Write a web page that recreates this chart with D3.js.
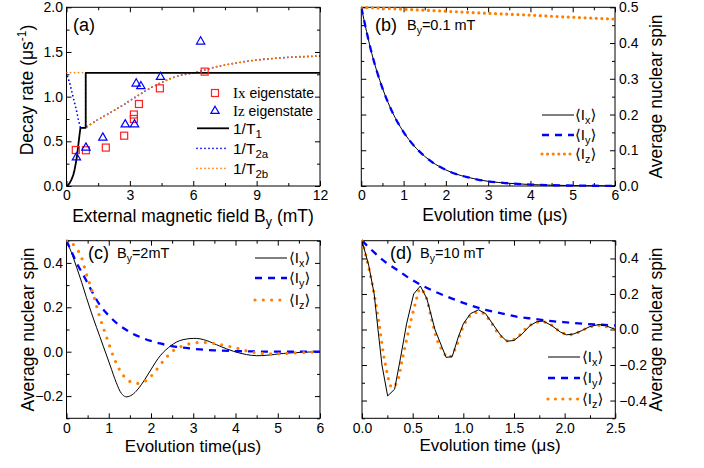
<!DOCTYPE html>
<html><head><meta charset="utf-8">
<script src="https://cdn.jsdelivr.net/npm/d3@7"></script>
<style>
body{margin:0;background:#fff;}
svg{display:block;}
text{font-family:"Liberation Sans",Arial,"DejaVu Sans",sans-serif;fill:#000;}
</style></head>
<body>
<svg id="c" width="704" height="468"></svg>
<script>
// ---------- DATA ----------
// Panel (a)
const aIxB = [0.44, 0.92, 1.86, 2.73, 3.19, 3.19, 3.43, 4.42, 6.54];
const aIxR = [0.403, 0.40, 0.43, 0.563, 0.75, 0.80, 0.918, 1.093, 1.28];
const aIzB = [0.47, 0.92, 1.72, 2.78, 3.22, 3.30, 3.52, 4.45, 6.35];
const aIzR = [0.33, 0.44, 0.552, 0.70, 0.70, 1.157, 1.127, 1.231, 1.627];
const aT1B = [0, 0.08, 0.16, 0.24, 0.32, 0.38, 0.44, 0.5, 0.55, 0.6, 0.66, 0.91, 0.91, 12];
const aT1R = [0, 0.01, 0.037, 0.075, 0.123, 0.18, 0.254, 0.34, 0.44, 0.54, 0.651, 0.651, 1.266, 1.266];
const aRiseB = [0.91, 1.5, 2, 2.5, 3, 3.5, 4, 4.5, 5, 5.5, 6, 6.5, 7, 7.5, 8, 8.5, 9, 9.5, 10, 10.5, 11, 11.5, 12];
const aRiseR = [0.655, 0.745, 0.81, 0.88, 0.955, 1.03, 1.10, 1.16, 1.21, 1.245, 1.265, 1.295, 1.33, 1.355, 1.375, 1.395, 1.41, 1.422, 1.432, 1.44, 1.446, 1.45, 1.455];
const aT2aHeadB = [0, 0.03, 0.16, 0.31, 0.47, 0.55, 0.66];
const aT2aHeadR = [1.27, 1.24, 1.147, 0.998, 0.85, 0.756, 0.651];
const aT2bHeadB = [0, 0.91];
const aT2bHeadR = [1.27, 1.27];
const aXTicks = [0, 3, 6, 9, 12];
const aYTicks = [0.0, 0.5, 1.0, 1.5, 2.0];

// Panel (b)  By = 0.1 mT
const bT  = [0, 0.25, 0.5, 0.75, 1, 1.25, 1.5, 1.75, 2, 2.25, 2.5, 2.75, 3, 3.5, 4, 4.5, 5, 5.5, 6];
const bIx = [0.5, 0.37, 0.274, 0.203, 0.151, 0.112, 0.083, 0.061, 0.045, 0.033, 0.025, 0.018, 0.013, 0.0075, 0.004, 0.0022, 0.0012, 0.0007, 0.0004];
const bIy = [0.5, 0.37, 0.274, 0.203, 0.151, 0.112, 0.083, 0.061, 0.045, 0.033, 0.025, 0.018, 0.013, 0.0075, 0.004, 0.0022, 0.0012, 0.0007, 0.0004];
const bTz = [0, 1, 2, 3, 4, 5, 6];
const bIz = [0.5, 0.4945, 0.489, 0.483, 0.478, 0.472, 0.467];
const bXTicks = [0, 1, 2, 3, 4, 5, 6];
const bYTicks = [0.0, 0.1, 0.2, 0.3, 0.4, 0.5];

// Panel (c)  By = 2 mT
const cTx = [0, 0.12, 0.24, 0.36, 0.47, 0.59, 0.71, 0.87, 1.03, 1.18, 1.3, 1.4, 1.52, 1.65, 1.78, 1.92, 2.05, 2.17, 2.29, 2.41, 2.53, 2.68, 2.84, 3.0, 3.16, 3.32, 3.63, 3.95, 4.26, 4.5, 4.74, 5.13, 5.53, 6];
const cIx = [0.5, 0.445, 0.38, 0.312, 0.245, 0.175, 0.11, 0.025, -0.06, -0.14, -0.188, -0.203, -0.198, -0.178, -0.146, -0.105, -0.065, -0.03, -0.003, 0.018, 0.035, 0.05, 0.057, 0.06, 0.058, 0.05, 0.025, 0.002, -0.013, -0.018, -0.016, -0.008, -0.003, 0];
const cTy = [0, 0.12, 0.24, 0.4, 0.55, 0.79, 1.0, 1.18, 1.4, 1.58, 1.8, 1.97, 2.2, 2.37, 2.6, 2.76, 3.0, 3.16, 3.5, 3.95, 4.5, 5, 5.5, 6];
const cIy = [0.5, 0.45, 0.4, 0.345, 0.29, 0.21, 0.163, 0.13, 0.1, 0.08, 0.062, 0.05, 0.038, 0.03, 0.022, 0.018, 0.013, 0.01, 0.006, 0.003, 0.001, 0, 0, 0];
const cTz = [0, 0.12, 0.32, 0.47, 0.63, 0.79, 0.95, 1.14, 1.3, 1.45, 1.6, 1.74, 1.9, 2.05, 2.29, 2.53, 2.84, 3.16, 3.47, 3.95, 4.42, 4.9, 5.37, 6];
const cIz = [0.5, 0.49, 0.44, 0.35, 0.26, 0.155, 0.065, -0.035, -0.095, -0.128, -0.141, -0.142, -0.128, -0.10, -0.042, 0.005, 0.032, 0.042, 0.038, 0.02, -0.003, -0.01, -0.006, 0];
const cXTicks = [0, 1, 2, 3, 4, 5, 6];
const cYTicks = [-0.2, 0.0, 0.2, 0.4];

// Panel (d)  By = 10 mT
const dTx = [0, 0.066, 0.12, 0.158, 0.197, 0.253, 0.322, 0.38, 0.44, 0.51, 0.576, 0.64, 0.72, 0.79, 0.83, 0.89, 0.95, 1.0, 1.07, 1.15, 1.22, 1.30, 1.37, 1.43, 1.5, 1.58, 1.66, 1.73, 1.79, 1.87, 1.96, 2.02, 2.09, 2.17, 2.25, 2.34, 2.4, 2.5];
const dIx = [0.5, 0.362, 0.2, 0.0, -0.2, -0.374, -0.336, -0.16, 0.032, 0.2, 0.245, 0.174, 0.0, -0.1, -0.157, -0.153, -0.043, 0.032, 0.089, 0.111, 0.089, 0.023, -0.034, -0.066, -0.062, -0.025, 0.023, 0.045, 0.047, 0.023, -0.015, -0.03, -0.025, -0.006, 0.017, 0.028, 0.023, 0.0];
const dTz = [0, 0.033, 0.1, 0.164, 0.23, 0.296, 0.345, 0.395, 0.46, 0.526, 0.576, 0.625, 0.69, 0.757, 0.855, 0.92, 0.99, 1.07, 1.17, 1.25, 1.35, 1.45, 1.55, 1.64, 1.74, 1.84, 1.94, 2.04, 2.14, 2.24, 2.34, 2.43, 2.5];
const dIz = [0.5, 0.428, 0.26, 0.05, -0.194, -0.326, -0.298, -0.175, -0.006, 0.145, 0.23, 0.192, 0.05, -0.08, -0.157, -0.11, 0.004, 0.079, 0.098, 0.06, -0.025, -0.066, -0.034, 0.017, 0.042, 0.036, -0.006, -0.03, -0.015, 0.013, 0.023, 0.013, 0.0];
const dTy = [0, 0.1, 0.23, 0.35, 0.45, 0.56, 0.7, 0.89, 1.05, 1.22, 1.4, 1.55, 1.7, 1.875, 2.05, 2.2, 2.35, 2.5];
const dIy = [0.5, 0.445, 0.38, 0.335, 0.295, 0.258, 0.218, 0.174, 0.14, 0.111, 0.088, 0.07, 0.06, 0.047, 0.039, 0.032, 0.027, 0.023];
const dXTicks = [0.0, 0.5, 1.0, 1.5, 2.0, 2.5];
const dYTicks = [-0.4, -0.2, 0.0, 0.2, 0.4];

// ---------- STYLE ----------
const BLACK = "#000", BLUE = "#0000ff", ORANGE = "#ff8000", RED = "#ff2020";
const svg = d3.select("#c");
const zip = (a, b) => a.map((v, i) => [v, b[i]]);

function panel(o) {
  const g = svg.append("g");
  const x = d3.scaleLinear().domain(o.xd).range([o.l, o.r]);
  const y = d3.scaleLinear().domain(o.yd).range([o.b, o.t]);
  const fmtX = o.xfmt, fmtY = o.yfmt;
  const xMin = o.xMinor, yMin = o.yMinor;
  const style = sel => { sel.select(".domain").remove(); sel.selectAll("line").attr("stroke", "#000").attr("stroke-width", 1); sel.selectAll("text").attr("font-size", 14).attr("font-family", '"Liberation Sans", Arial, sans-serif').attr("fill", "#000"); };
  g.append("g").attr("transform", `translate(0,${o.b})`).call(d3.axisBottom(x).tickValues(o.xt).tickSize(-5).tickPadding(4.5).tickFormat(fmtX)).call(style);
  g.append("g").attr("transform", `translate(0,${o.b})`).call(d3.axisBottom(x).tickValues(xMin).tickSize(-3).tickFormat("")).call(style);
  g.append("g").attr("transform", `translate(0,${o.t})`).call(d3.axisTop(x).tickValues(o.xt).tickSize(-5).tickFormat("")).call(style);
  g.append("g").attr("transform", `translate(0,${o.t})`).call(d3.axisTop(x).tickValues(xMin).tickSize(-3).tickFormat("")).call(style);
  g.append("g").attr("transform", `translate(${o.l},0)`).call(d3.axisLeft(y).tickValues(o.yt).tickSize(-5).tickPadding(3.5).tickFormat(o.yside === "left" ? fmtY : "")).call(style);
  g.append("g").attr("transform", `translate(${o.l},0)`).call(d3.axisLeft(y).tickValues(yMin).tickSize(-3).tickFormat("")).call(style);
  g.append("g").attr("transform", `translate(${o.r},0)`).call(d3.axisRight(y).tickValues(o.yt).tickSize(-5).tickPadding(4).tickFormat(o.yside === "right" ? fmtY : "")).call(style);
  g.append("g").attr("transform", `translate(${o.r},0)`).call(d3.axisRight(y).tickValues(yMin).tickSize(-3).tickFormat("")).call(style);
  g.append("rect").attr("x", o.l).attr("y", o.t).attr("width", o.r - o.l).attr("height", o.b - o.t)
    .attr("fill", "none").attr("stroke", "#000").attr("stroke-width", 1);
  const clip = "clip" + Math.random().toString(36).slice(2);
  g.append("clipPath").attr("id", clip).append("rect").attr("x", o.l).attr("y", o.t - 2).attr("width", o.r - o.l).attr("height", o.b - o.t + 4);
  const plot = g.append("g").attr("clip-path", `url(#${clip})`);
  return { g, x, y, plot };
}

function addLine(P, pts, st, curve) {
  const line = d3.line().x(d => P.x(d[0])).y(d => P.y(d[1])).curve(curve || d3.curveLinear);
  P.plot.append("path").attr("d", line(pts)).attr("fill", "none")
    .attr("stroke", st.c).attr("stroke-width", st.w).attr("stroke-dasharray", st.dash || null)
    .attr("stroke-linecap", st.cap || "butt").attr("stroke-linejoin", "round");
}
function legendLine(g, x1, x2, yy, st) {
  g.append("line").attr("x1", x1).attr("x2", x2).attr("y1", yy).attr("y2", yy)
    .attr("stroke", st.c).attr("stroke-width", st.w).attr("stroke-dasharray", st.dash || null).attr("stroke-linecap", st.cap || "butt");
}
function bracketLabel(g, x, yy, sub, size) {
  const t = g.append("text").attr("x", x).attr("y", yy).attr("font-size", size || 15)
    .style("font-family", '"Liberation Sans","DejaVu Sans",sans-serif');
  t.append("tspan").text("\u27E8I");
  t.append("tspan").attr("dy", 4).attr("font-size", (size || 15) * 0.72).text(sub);
  t.append("tspan").attr("dy", -4).text("\u27E9");
}
function byLabel(g, x, yy, rest, size) {
  const t = g.append("text").attr("x", x).attr("y", yy).attr("font-size", size || 14.5);
  t.append("tspan").text("B");
  t.append("tspan").attr("dy", 4).attr("font-size", (size || 14.5) * 0.72).text("y");
  t.append("tspan").attr("dy", -4).text(rest);
}
const sIx = { c: BLACK, w: 1 };
const sIy = { c: BLUE, w: 2.3, dash: "7 6" };
const sIz = { c: ORANGE, w: 3.2, dash: "0 7.4", cap: "round" };
const sIzB = { c: ORANGE, w: 3.2, dash: "0 5.6", cap: "round" };
const sIzC = { c: ORANGE, w: 3.2, dash: "0 8.3", cap: "round" };

// ---------- PANEL (a) ----------
{
  const P = panel({ l: 66.5, r: 320, t: 7.3, b: 186, xd: [0, 12], yd: [0, 2], xt: aXTicks, yt: aYTicks,
    xMinor: [1.5, 4.5, 7.5, 10.5], yMinor: [0.25, 0.75, 1.25, 1.75], xfmt: d3.format("d"), yfmt: d3.format(".1f"), yside: "left" });
  const rise = zip(aRiseB, aRiseR);
  addLine(P, zip(aT2aHeadB, aT2aHeadR).concat(rise), { c: BLUE, w: 1.8, dash: "0 4", cap: "round" });
  addLine(P, zip(aT2bHeadB, aT2bHeadR).concat([[0.91, 0.655]]).concat(rise), { c: ORANGE, w: 1.8, dash: "0 4", cap: "round" });
  addLine(P, zip(aT1B, aT1R), { c: BLACK, w: 1.8 });
  const sq = 7;
  P.plot.selectAll(".sq").data(zip(aIxB, aIxR)).enter().append("rect")
    .attr("x", d => P.x(d[0]) - sq / 2).attr("y", d => P.y(d[1]) - sq / 2).attr("width", sq).attr("height", sq)
    .attr("fill", "none").attr("stroke", RED).attr("stroke-width", 1.2);
  const tri = d3.symbol().type(d3.symbolTriangle).size(30);
  P.plot.selectAll(".tr").data(zip(aIzB, aIzR)).enter().append("path")
    .attr("d", tri).attr("transform", d => `translate(${P.x(d[0])},${P.y(d[1]) + 1})`)
    .attr("fill", "none").attr("stroke", BLUE).attr("stroke-width", 1.2);
  const g = P.g;
  g.append("text").attr("x", 73).attr("y", 31).attr("font-size", 18).text("(a)");
  g.append("rect").attr("x", 215 - sq / 2).attr("y", 93 - sq / 2).attr("width", sq).attr("height", sq).attr("fill", "none").attr("stroke", RED).attr("stroke-width", 1.2);
  g.append("path").attr("d", tri).attr("transform", "translate(215,111)").attr("fill", "none").attr("stroke", BLUE).attr("stroke-width", 1.2);
  [["Ix", 98], ["Iz", 116]].forEach(([s, yy]) => {
    const t = g.append("text").attr("x", 233).attr("y", yy).attr("font-size", 14);
    t.append("tspan").style("font-family", '"Liberation Serif","Times New Roman",serif').attr("font-size", 15).text(s);
    t.append("tspan").text(" eigenstate");
  });
  legendLine(g, 197, 229, 128.3, { c: BLACK, w: 1.8 });
  legendLine(g, 197, 229, 148.3, { c: BLUE, w: 1.8, dash: "0 4", cap: "round" });
  legendLine(g, 197, 229, 168.3, { c: ORANGE, w: 1.8, dash: "0 4", cap: "round" });
  [["1", 133.5], ["2a", 153.5], ["2b", 173.5]].forEach(([s, yy]) => {
    const t = g.append("text").attr("x", 233).attr("y", yy).attr("font-size", 15.5);
    t.append("tspan").text("1/T");
    t.append("tspan").attr("dy", 4).attr("font-size", 11.5).text(s);
  });
  const xt = g.append("text").attr("x", 193).attr("y", 222).attr("text-anchor", "middle").attr("font-size", 17.5);
  xt.append("tspan").text("External magnetic field B");
  xt.append("tspan").attr("dy", 4).attr("font-size", 12.5).text("y");
  xt.append("tspan").attr("dy", -4).text(" (mT)");
  const yt = g.append("text").attr("transform", "translate(33,90) rotate(-90)").attr("text-anchor", "middle").attr("font-size", 17.5);
  yt.append("tspan").text("Decay rate (\u03BCs");
  yt.append("tspan").attr("dy", -7).attr("font-size", 12).text("-1");
  yt.append("tspan").attr("dy", 7).text(")");
}

// ---------- PANEL (b) ----------
{
  const P = panel({ l: 361.3, r: 615, t: 7.3, b: 186, xd: [0, 6], yd: [0, 0.5], xt: bXTicks, yt: bYTicks,
    xMinor: [0.5, 1.5, 2.5, 3.5, 4.5, 5.5], yMinor: [0.05, 0.15, 0.25, 0.35, 0.45], xfmt: d3.format("d"), yfmt: d3.format(".1f"), yside: "right" });
  addLine(P, zip(bT, bIx), sIx, d3.curveMonotoneX);
  addLine(P, zip(bT, bIy), sIy, d3.curveMonotoneX);
  addLine(P, zip(bTz, bIz), sIzB, d3.curveMonotoneX);
  const g = P.g;
  g.append("text").attr("x", 375).attr("y", 31).attr("font-size", 18).text("(b)");
  byLabel(g, 407, 30, "=0.1 mT");
  legendLine(g, 542, 574, 115, sIx);
  legendLine(g, 542, 574, 135, sIy);
  legendLine(g, 542, 574, 154, sIzB);
  bracketLabel(g, 575, 120, "x"); bracketLabel(g, 575, 140, "y"); bracketLabel(g, 575, 159, "z");
  g.append("text").attr("x", 495).attr("y", 221).attr("text-anchor", "middle").attr("font-size", 17.5).text("Evolution time (\u03BCs)");
  g.append("text").attr("transform", "translate(662,96.5) rotate(-90)").attr("text-anchor", "middle").attr("font-size", 17.5).text("Average nuclear spin");
}

// ---------- PANEL (c) ----------
{
  const P = panel({ l: 66.5, r: 320, t: 240.7, b: 418.3, xd: [0, 6], yd: [-0.3, 0.5], xt: cXTicks, yt: cYTicks,
    xMinor: [0.5, 1.5, 2.5, 3.5, 4.5, 5.5], yMinor: [-0.3, -0.1, 0.1, 0.3, 0.5], xfmt: d3.format("d"), yfmt: d3.format(".1f"), yside: "left" });
  addLine(P, zip(cTx, cIx), sIx, d3.curveCatmullRom);
  addLine(P, zip(cTy, cIy), sIy, d3.curveMonotoneX);
  addLine(P, zip(cTz, cIz), sIzC, d3.curveCatmullRom);
  const g = P.g;
  g.append("text").attr("x", 88).attr("y", 259).attr("font-size", 18).text("(c)");
  byLabel(g, 117, 258, "=2mT");
  legendLine(g, 255, 287, 258, sIx);
  legendLine(g, 255, 287, 278, sIy);
  legendLine(g, 255, 287, 300, sIzC);
  bracketLabel(g, 289, 263, "x"); bracketLabel(g, 289, 283, "y"); bracketLabel(g, 289, 305, "z");
  g.append("text").attr("x", 193).attr("y", 452).attr("text-anchor", "middle").attr("font-size", 17).text("Evolution time(\u03BCs)");
  g.append("text").attr("transform", "translate(34,329.5) rotate(-90)").attr("text-anchor", "middle").attr("font-size", 17.5).text("Average nuclear spin");
}

// ---------- PANEL (d) ----------
{
  const P = panel({ l: 362, r: 615.3, t: 240.7, b: 418.3, xd: [0, 2.5], yd: [-0.5, 0.5], xt: dXTicks, yt: dYTicks,
    xMinor: [0.25, 0.75, 1.25, 1.75, 2.25], yMinor: [-0.5, -0.3, -0.1, 0.1, 0.3, 0.5], xfmt: d3.format(".1f"), yfmt: d3.format(".1f"), yside: "right" });
  addLine(P, zip(dTy, dIy), sIy, d3.curveMonotoneX);
  addLine(P, zip(dTz, dIz), sIz, d3.curveCatmullRom);
  addLine(P, zip(dTx, dIx), sIx);
  const g = P.g;
  g.append("text").attr("x", 390).attr("y", 259).attr("font-size", 18).text("(d)");
  byLabel(g, 420, 258, "=10 mT");
  legendLine(g, 548, 580, 357, sIx);
  legendLine(g, 548, 580, 378, sIy);
  legendLine(g, 548, 580, 399, sIz);
  bracketLabel(g, 582, 362, "x"); bracketLabel(g, 582, 383, "y"); bracketLabel(g, 582, 404, "z");
  g.append("text").attr("x", 490).attr("y", 451).attr("text-anchor", "middle").attr("font-size", 17).text("Evolution time (\u03BCs)");
  g.append("text").attr("transform", "translate(662,329.5) rotate(-90)").attr("text-anchor", "middle").attr("font-size", 17.5).text("Average nuclear spin");
}
</script>
</body></html>
